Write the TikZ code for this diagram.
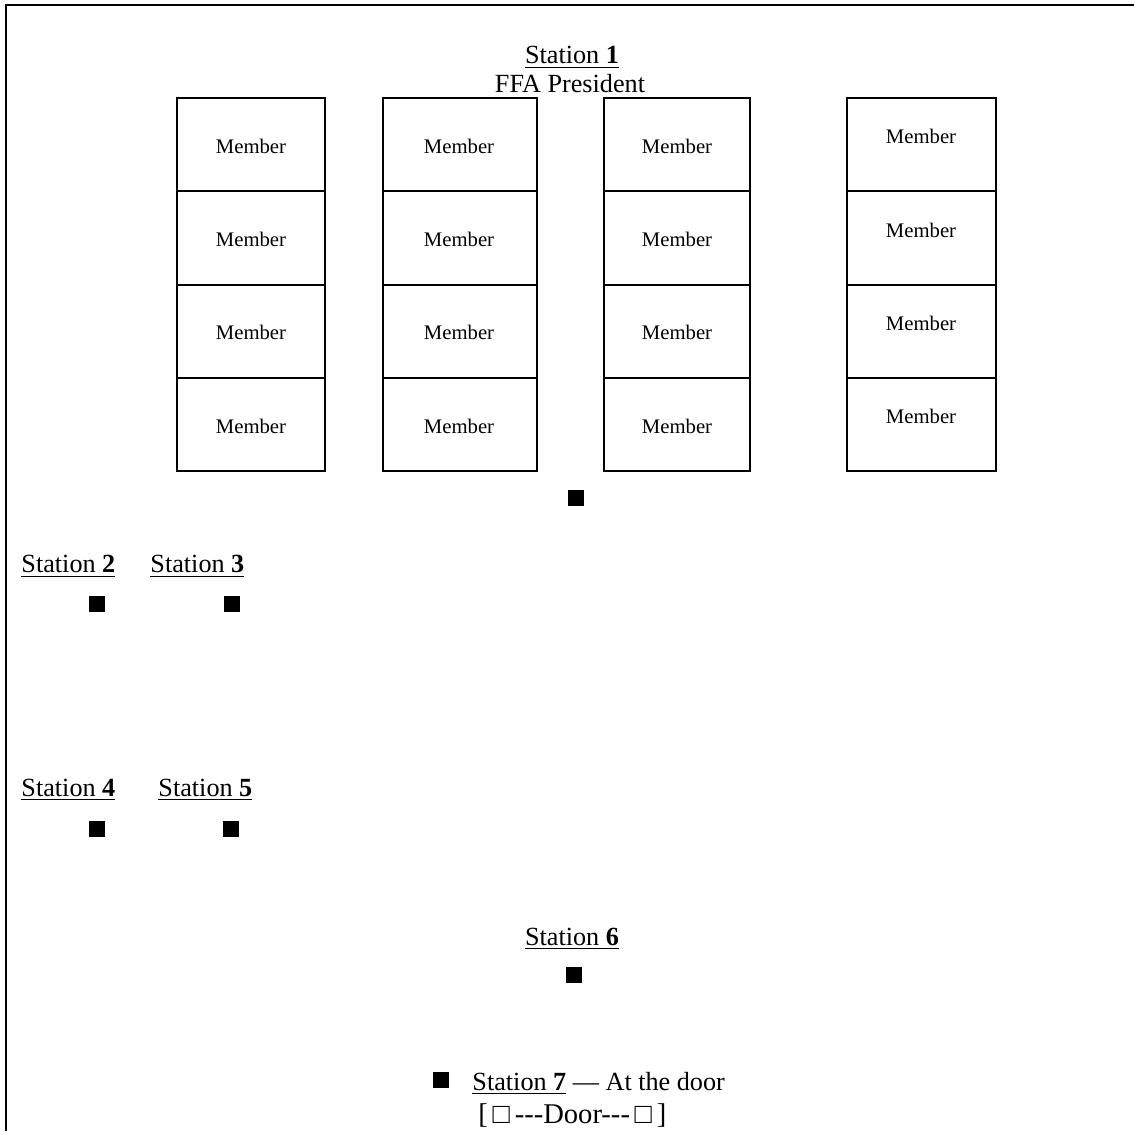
\documentclass[tikz,border=0pt]{standalone}
\usepackage{fontspec}
\setmainfont{Liberation Serif}

\tikzset{
	member/.style={font=\fontsize{8.7}{10}\selectfont, inner sep=0pt},
	stationtxt/.style={font=\fontsize{11}{13}\selectfont, inner sep=0pt},
	seat/.style={fill=black, inner sep=0pt, minimum size=7pt},
	desk/.style={draw, line width=0.8pt}
}

\newcommand{\stationname}[1]{\underline{Station \textbf{#1}}}

\begin{document}
\begin{tikzpicture}[x=0.42pt, y=-0.42pt]
	\useasboundingbox (0, 0) rectangle (1134, 1131);

	% room walls (only left and top show)
	\draw[line width=0.85pt] (6, 1131) -- (6, 5) -- (1134, 5);

	% station 1 at the front
	\node[stationtxt, anchor=base] (st1) at (572, 64) {\stationname{1}};
	\node[stationtxt, anchor=base] (pres) at (570, 93) {FFA President};

	% rows of desks
	\begin{scope}
		\path[desk] (177, 98) rectangle (325, 471);
		\draw[line width=0.8pt] (177, 191) -- (325, 191)
			(177, 285) -- (325, 285) (177, 378) -- (325, 378);
		\node[member] (m11) at (251, 146) {Member};
		\node[member] (m12) at (251, 239) {Member};
		\node[member] (m13) at (251, 332) {Member};
		\node[member] (m14) at (251, 426) {Member};
	\end{scope}

	\begin{scope}
		\path[desk] (383, 98) rectangle (537, 471);
		\draw[line width=0.8pt] (383, 191) -- (537, 191)
			(383, 285) -- (537, 285) (383, 378) -- (537, 378);
		\node[member] (m21) at (459, 146) {Member};
		\node[member] (m22) at (459, 239) {Member};
		\node[member] (m23) at (459, 332) {Member};
		\node[member] (m24) at (459, 426) {Member};
	\end{scope}

	\begin{scope}
		\path[desk] (604, 98) rectangle (750, 471);
		\draw[line width=0.8pt] (604, 191) -- (750, 191)
			(604, 285) -- (750, 285) (604, 378) -- (750, 378);
		\node[member] (m31) at (677, 146) {Member};
		\node[member] (m32) at (677, 239) {Member};
		\node[member] (m33) at (677, 332) {Member};
		\node[member] (m34) at (677, 426) {Member};
	\end{scope}

	\begin{scope}
		\path[desk] (847, 98) rectangle (996, 471);
		\draw[line width=0.8pt] (847, 191) -- (996, 191)
			(847, 285) -- (996, 285) (847, 378) -- (996, 378);
		\node[member] (m41) at (921, 136) {Member};
		\node[member] (m42) at (921, 230) {Member};
		\node[member] (m43) at (921, 323) {Member};
		\node[member] (m44) at (921, 416) {Member};
	\end{scope}

	\node[seat] (s1) at (576, 498) {};

	% stations along the left wall
	\node[stationtxt, anchor=base west] (st2) at (21, 573) {\stationname{2}};
	\node[stationtxt, anchor=base west] (st3) at (150, 573) {\stationname{3}};
	\node[seat] (s2) at (97, 604) {};
	\node[seat] (s3) at (232, 604) {};

	\node[stationtxt, anchor=base west] (st4) at (21, 796) {\stationname{4}};
	\node[stationtxt, anchor=base west] (st5) at (158, 796) {\stationname{5}};
	\node[seat] (s4) at (97, 829) {};
	\node[seat] (s5) at (231, 829) {};

	\node[stationtxt, anchor=base] (st6) at (572, 945) {\stationname{6}};
	\node[seat] (s6) at (574, 975) {};

	% station 7 by the door
	\node[seat] (s7) at (441, 1080) {};
	\node[stationtxt, anchor=base west] (st7) at (472, 1090)
		{\stationname{7} --- At the door};
	\node[stationtxt, font=\fontsize{12}{14}\selectfont, anchor=base west]
		(door) at (478, 1123) {[\,□\,-{}-{}-Door-{}-{}-\,□\,]};

\end{tikzpicture}
\end{document}
